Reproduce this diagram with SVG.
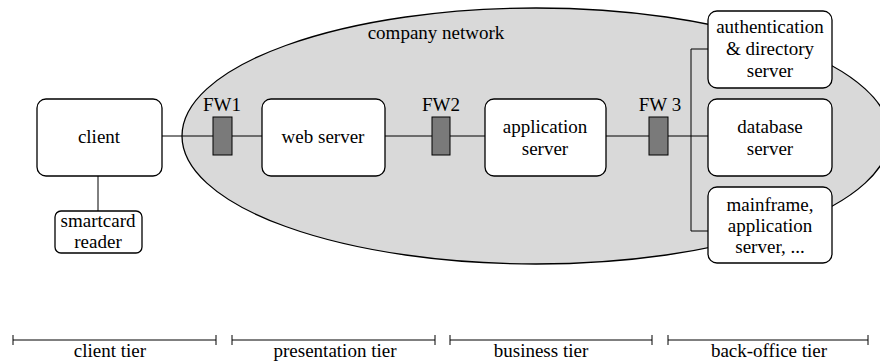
<svg xmlns="http://www.w3.org/2000/svg" width="880" height="362" viewBox="0 0 880 362">
<style>
text{font-family:'Liberation Serif','DejaVu Serif','Times New Roman',serif;font-size:19px;fill:#000;text-anchor:middle}
.box{fill:#fff;stroke:#000;stroke-width:1.3}
.fw{fill:#7a7a7a;stroke:#000;stroke-width:1}
.ln{stroke:#000;stroke-width:1;fill:none}
</style>
<rect width="880" height="362" fill="#fff"/>
<g id="network">
<ellipse cx="536" cy="136" rx="354" ry="128" fill="#d9d9d9" stroke="#000" stroke-width="1.3"/>
<text x="436" y="39">company network</text>
</g>
<g id="connectors">
<line class="ln" x1="162" y1="136" x2="262" y2="136"/>
<line class="ln" x1="98" y1="176" x2="98" y2="211"/>
<line class="ln" x1="385" y1="136" x2="485" y2="136"/>
<line class="ln" x1="606" y1="136" x2="708" y2="136"/>
<polyline class="ln" points="708,49 691,49 691,231 708,231"/>
</g>
<g id="client"><rect class="box" x="37" y="99" width="125" height="77" rx="9"/><text x="99" y="143">client</text></g>
<g id="smartcard"><rect class="box" x="55" y="211" width="87" height="42" rx="6"/><text x="98" y="227">smartcard</text><text x="98" y="248">reader</text></g>
<g id="fw1"><rect class="fw" x="213" y="117" width="19" height="38"/><text x="222" y="111">FW1</text></g>
<g id="webserver"><rect class="box" x="262" y="99" width="123" height="77" rx="9"/><text x="323" y="143">web server</text></g>
<g id="fw2"><rect class="fw" x="432" y="117" width="18" height="38"/><text x="441" y="111">FW2</text></g>
<g id="appserver"><rect class="box" x="485" y="99" width="121" height="77" rx="9"/><text x="545" y="133">application</text><text x="545" y="155">server</text></g>
<g id="fw3"><rect class="fw" x="649" y="117" width="19" height="38"/><text x="660" y="111">FW 3</text></g>
<g id="auth"><rect class="box" x="708" y="11" width="124" height="77" rx="9"/><text x="770" y="33">authentication</text><text x="770" y="55">&amp; directory</text><text x="770" y="77">server</text></g>
<g id="database"><rect class="box" x="708" y="99" width="124" height="77" rx="9"/><text x="770" y="133">database</text><text x="770" y="155">server</text></g>
<g id="mainframe"><rect class="box" x="708" y="187" width="124" height="76" rx="9"/><text x="770" y="211">mainframe,</text><text x="770" y="232">application</text><text x="770" y="253">server, ...</text></g>
<g id="tiers">
<path class="ln" d="M13,340H216M13,335V345M216,335V345"/>
<path class="ln" d="M232,340H435M232,335V345M435,335V345"/>
<path class="ln" d="M450,340H652M450,335V345M652,335V345"/>
<path class="ln" d="M668,340H868M668,335V345M868,335V345"/>
<text x="110" y="357">client tier</text>
<text x="335" y="357">presentation tier</text>
<text x="541" y="357">business tier</text>
<text x="769" y="357">back-office tier</text>
</g>
</svg>
